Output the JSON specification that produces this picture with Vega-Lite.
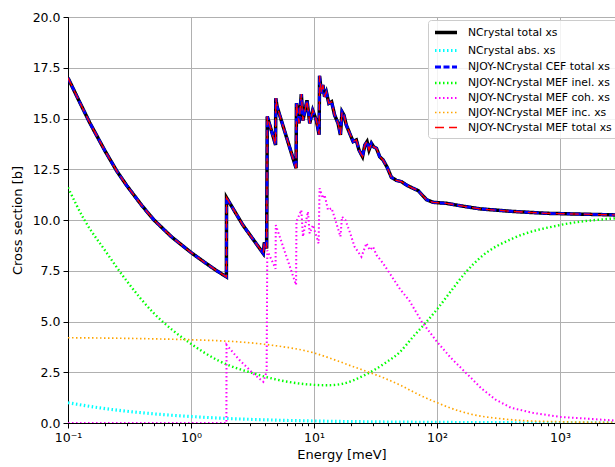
{
  "$schema": "https://vega.github.io/schema/vega-lite/v6.json",
  "width": 547,
  "height": 406,
  "autosize": {"type": "none"},
  "padding": {"left": 68, "top": 17, "right": 0, "bottom": 44},
  "config": {
    "font": "DejaVu Sans",
    "view": {"stroke": "black", "strokeWidth": 1},
    "axis": {
      "labelFont": "DejaVu Sans", "titleFont": "DejaVu Sans",
      "labelColor": "black", "titleColor": "black",
      "labelFontSize": 12.5, "titleFontSize": 13, "titleFontWeight": "normal",
      "domainColor": "black", "tickColor": "black",
      "gridColor": "#b0b0b0", "gridWidth": 1,
      "labelFlush": false, "labelOverlap": false, "labelBound": false
    }
  },
  "data": {"values": [
    {"s":"tot","E":0.1,"v":17.0},{"s":"tot","E":0.12,"v":16.0},{"s":"tot","E":0.15,"v":14.8},{"s":"tot","E":0.2,"v":13.4},{"s":"tot","E":0.25,"v":12.4},{"s":"tot","E":0.3,"v":11.7},{"s":"tot","E":0.4,"v":10.7},{"s":"tot","E":0.5,"v":10.0},{"s":"tot","E":0.7,"v":9.15},{"s":"tot","E":1.0,"v":8.4},{"s":"tot","E":1.3,"v":7.9},{"s":"tot","E":1.6,"v":7.52},{"s":"tot","E":1.94,"v":7.2},{"s":"tot","E":1.945,"v":11.1},{"s":"tot","E":2.64,"v":9.75},{"s":"tot","E":3.87,"v":8.35},{"s":"tot","E":3.95,"v":8.9},{"s":"tot","E":4.12,"v":8.6},{"s":"tot","E":4.17,"v":15.1},{"s":"tot","E":4.87,"v":13.7},{"s":"tot","E":4.89,"v":16.0},{"s":"tot","E":5.0,"v":15.6},{"s":"tot","E":7.15,"v":12.55},{"s":"tot","E":7.2,"v":15.75},{"s":"tot","E":7.55,"v":14.76},{"s":"tot","E":7.89,"v":16.2},{"s":"tot","E":8.13,"v":14.9},{"s":"tot","E":8.77,"v":15.9},{"s":"tot","E":9.23,"v":14.76},{"s":"tot","E":9.76,"v":15.4},{"s":"tot","E":10.46,"v":14.9},{"s":"tot","E":11.0,"v":14.2},{"s":"tot","E":11.1,"v":17.1},{"s":"tot","E":11.5,"v":16.24},{"s":"tot","E":11.8,"v":16.65},{"s":"tot","E":12.2,"v":16.07},{"s":"tot","E":12.6,"v":16.3},{"s":"tot","E":13.2,"v":15.75},{"s":"tot","E":13.9,"v":15.83},{"s":"tot","E":14.7,"v":15.17},{"s":"tot","E":15.7,"v":14.76},{"s":"tot","E":16.4,"v":14.19},{"s":"tot","E":16.9,"v":15.33},{"s":"tot","E":17.5,"v":15.17},{"s":"tot","E":18.3,"v":14.68},{"s":"tot","E":19.5,"v":14.27},{"s":"tot","E":20.8,"v":13.86},{"s":"tot","E":22.1,"v":13.94},{"s":"tot","E":23.2,"v":13.45},{"s":"tot","E":24.8,"v":13.12},{"s":"tot","E":25.9,"v":13.69},{"s":"tot","E":27.0,"v":13.86},{"s":"tot","E":28.0,"v":13.45},{"s":"tot","E":29.3,"v":13.78},{"s":"tot","E":30.6,"v":13.6},{"s":"tot","E":32.2,"v":13.53},{"s":"tot","E":34.2,"v":13.12},{"s":"tot","E":36.4,"v":12.96},{"s":"tot","E":39.3,"v":12.6},{"s":"tot","E":42.6,"v":12.1},{"s":"tot","E":46.8,"v":11.95},{"s":"tot","E":51.4,"v":11.89},{"s":"tot","E":56.5,"v":11.72},{"s":"tot","E":63.9,"v":11.56},{"s":"tot","E":70.2,"v":11.45},{"s":"tot","E":82.2,"v":11.0},{"s":"tot","E":93.0,"v":10.87},{"s":"tot","E":119.5,"v":10.82},{"s":"tot","E":163,"v":10.68},{"s":"tot","E":223,"v":10.55},{"s":"tot","E":416,"v":10.42},{"s":"tot","E":778,"v":10.33},{"s":"tot","E":1452,"v":10.29},{"s":"tot","E":2800,"v":10.25},

    {"s":"cef","E":0.1,"v":17.0},{"s":"cef","E":0.12,"v":16.0},{"s":"cef","E":0.15,"v":14.8},{"s":"cef","E":0.2,"v":13.4},{"s":"cef","E":0.25,"v":12.4},{"s":"cef","E":0.3,"v":11.7},{"s":"cef","E":0.4,"v":10.7},{"s":"cef","E":0.5,"v":10.0},{"s":"cef","E":0.7,"v":9.15},{"s":"cef","E":1.0,"v":8.4},{"s":"cef","E":1.3,"v":7.9},{"s":"cef","E":1.6,"v":7.52},{"s":"cef","E":1.94,"v":7.2},{"s":"cef","E":1.945,"v":11.1},{"s":"cef","E":2.64,"v":9.75},{"s":"cef","E":3.87,"v":8.35},{"s":"cef","E":3.95,"v":8.9},{"s":"cef","E":4.12,"v":8.6},{"s":"cef","E":4.17,"v":15.1},{"s":"cef","E":4.87,"v":13.7},{"s":"cef","E":4.89,"v":16.0},{"s":"cef","E":5.0,"v":15.6},{"s":"cef","E":7.15,"v":12.55},{"s":"cef","E":7.2,"v":15.75},{"s":"cef","E":7.55,"v":14.76},{"s":"cef","E":7.89,"v":16.2},{"s":"cef","E":8.13,"v":14.9},{"s":"cef","E":8.77,"v":15.9},{"s":"cef","E":9.23,"v":14.76},{"s":"cef","E":9.76,"v":15.4},{"s":"cef","E":10.46,"v":14.9},{"s":"cef","E":11.0,"v":14.2},{"s":"cef","E":11.1,"v":17.1},{"s":"cef","E":11.5,"v":16.24},{"s":"cef","E":11.8,"v":16.65},{"s":"cef","E":12.2,"v":16.07},{"s":"cef","E":12.6,"v":16.3},{"s":"cef","E":13.2,"v":15.75},{"s":"cef","E":13.9,"v":15.83},{"s":"cef","E":14.7,"v":15.17},{"s":"cef","E":15.7,"v":14.76},{"s":"cef","E":16.4,"v":14.19},{"s":"cef","E":16.9,"v":15.33},{"s":"cef","E":17.5,"v":15.17},{"s":"cef","E":18.3,"v":14.68},{"s":"cef","E":19.5,"v":14.27},{"s":"cef","E":20.8,"v":13.86},{"s":"cef","E":22.1,"v":13.94},{"s":"cef","E":23.2,"v":13.45},{"s":"cef","E":24.8,"v":13.12},{"s":"cef","E":25.9,"v":13.69},{"s":"cef","E":27.0,"v":13.86},{"s":"cef","E":28.0,"v":13.45},{"s":"cef","E":29.3,"v":13.78},{"s":"cef","E":30.6,"v":13.6},{"s":"cef","E":32.2,"v":13.53},{"s":"cef","E":34.2,"v":13.12},{"s":"cef","E":36.4,"v":12.96},{"s":"cef","E":39.3,"v":12.6},{"s":"cef","E":42.6,"v":12.1},{"s":"cef","E":46.8,"v":11.95},{"s":"cef","E":51.4,"v":11.89},{"s":"cef","E":56.5,"v":11.72},{"s":"cef","E":63.9,"v":11.56},{"s":"cef","E":70.2,"v":11.45},{"s":"cef","E":82.2,"v":11.0},{"s":"cef","E":93.0,"v":10.87},{"s":"cef","E":119.5,"v":10.82},{"s":"cef","E":163,"v":10.68},{"s":"cef","E":223,"v":10.55},{"s":"cef","E":416,"v":10.42},{"s":"cef","E":778,"v":10.33},{"s":"cef","E":1452,"v":10.29},{"s":"cef","E":2800,"v":10.25},

    {"s":"mef","E":0.1,"v":17.0},{"s":"mef","E":0.12,"v":16.0},{"s":"mef","E":0.15,"v":14.8},{"s":"mef","E":0.2,"v":13.4},{"s":"mef","E":0.25,"v":12.4},{"s":"mef","E":0.3,"v":11.7},{"s":"mef","E":0.4,"v":10.7},{"s":"mef","E":0.5,"v":10.0},{"s":"mef","E":0.7,"v":9.15},{"s":"mef","E":1.0,"v":8.4},{"s":"mef","E":1.3,"v":7.9},{"s":"mef","E":1.6,"v":7.52},{"s":"mef","E":1.94,"v":7.2},{"s":"mef","E":1.945,"v":11.1},{"s":"mef","E":2.64,"v":9.75},{"s":"mef","E":3.87,"v":8.35},{"s":"mef","E":3.95,"v":8.9},{"s":"mef","E":4.12,"v":8.6},{"s":"mef","E":4.17,"v":15.1},{"s":"mef","E":4.87,"v":13.7},{"s":"mef","E":4.89,"v":16.0},{"s":"mef","E":5.0,"v":15.6},{"s":"mef","E":7.15,"v":12.55},{"s":"mef","E":7.2,"v":15.75},{"s":"mef","E":7.55,"v":14.76},{"s":"mef","E":7.89,"v":16.2},{"s":"mef","E":8.13,"v":14.9},{"s":"mef","E":8.77,"v":15.9},{"s":"mef","E":9.23,"v":14.76},{"s":"mef","E":9.76,"v":15.4},{"s":"mef","E":10.46,"v":14.9},{"s":"mef","E":11.0,"v":14.2},{"s":"mef","E":11.1,"v":17.1},{"s":"mef","E":11.5,"v":16.24},{"s":"mef","E":11.8,"v":16.65},{"s":"mef","E":12.2,"v":16.07},{"s":"mef","E":12.6,"v":16.3},{"s":"mef","E":13.2,"v":15.75},{"s":"mef","E":13.9,"v":15.83},{"s":"mef","E":14.7,"v":15.17},{"s":"mef","E":15.7,"v":14.76},{"s":"mef","E":16.4,"v":14.19},{"s":"mef","E":16.9,"v":15.33},{"s":"mef","E":17.5,"v":15.17},{"s":"mef","E":18.3,"v":14.68},{"s":"mef","E":19.5,"v":14.27},{"s":"mef","E":20.8,"v":13.86},{"s":"mef","E":22.1,"v":13.94},{"s":"mef","E":23.2,"v":13.45},{"s":"mef","E":24.8,"v":13.12},{"s":"mef","E":25.9,"v":13.69},{"s":"mef","E":27.0,"v":13.86},{"s":"mef","E":28.0,"v":13.45},{"s":"mef","E":29.3,"v":13.78},{"s":"mef","E":30.6,"v":13.6},{"s":"mef","E":32.2,"v":13.53},{"s":"mef","E":34.2,"v":13.12},{"s":"mef","E":36.4,"v":12.96},{"s":"mef","E":39.3,"v":12.6},{"s":"mef","E":42.6,"v":12.1},{"s":"mef","E":46.8,"v":11.95},{"s":"mef","E":51.4,"v":11.89},{"s":"mef","E":56.5,"v":11.72},{"s":"mef","E":63.9,"v":11.56},{"s":"mef","E":70.2,"v":11.45},{"s":"mef","E":82.2,"v":11.0},{"s":"mef","E":93.0,"v":10.87},{"s":"mef","E":119.5,"v":10.82},{"s":"mef","E":163,"v":10.68},{"s":"mef","E":223,"v":10.55},{"s":"mef","E":416,"v":10.42},{"s":"mef","E":778,"v":10.33},{"s":"mef","E":1452,"v":10.29},{"s":"mef","E":2800,"v":10.25},

    {"s":"abs","E":0.1,"v":1.0},{"s":"abs","E":0.15,"v":0.82},{"s":"abs","E":0.2,"v":0.71},{"s":"abs","E":0.3,"v":0.58},{"s":"abs","E":0.5,"v":0.45},{"s":"abs","E":0.7,"v":0.38},{"s":"abs","E":1,"v":0.32},{"s":"abs","E":2,"v":0.22},{"s":"abs","E":3,"v":0.18},{"s":"abs","E":5,"v":0.14},{"s":"abs","E":10,"v":0.1},{"s":"abs","E":20,"v":0.071},{"s":"abs","E":50,"v":0.045},{"s":"abs","E":100,"v":0.032},{"s":"abs","E":300,"v":0.018},{"s":"abs","E":1000,"v":0.01},{"s":"abs","E":2800,"v":0.006},

    {"s":"inel","E":0.1,"v":11.6},{"s":"inel","E":0.136,"v":10.0},{"s":"inel","E":0.2,"v":8.5},{"s":"inel","E":0.3,"v":7.0},{"s":"inel","E":0.5,"v":5.4},{"s":"inel","E":0.7,"v":4.6},{"s":"inel","E":1.0,"v":3.9},{"s":"inel","E":1.7,"v":3.05},{"s":"inel","E":3.2,"v":2.45},{"s":"inel","E":6.1,"v":2.03},{"s":"inel","E":10,"v":1.88},{"s":"inel","E":13,"v":1.86},{"s":"inel","E":17,"v":1.93},{"s":"inel","E":25.8,"v":2.36},{"s":"inel","E":37.6,"v":2.94},{"s":"inel","E":50,"v":3.5},{"s":"inel","E":65,"v":4.3},{"s":"inel","E":80,"v":4.9},{"s":"inel","E":100,"v":5.6},{"s":"inel","E":130,"v":6.5},{"s":"inel","E":170,"v":7.4},{"s":"inel","E":230,"v":8.2},{"s":"inel","E":416,"v":9.1},{"s":"inel","E":1000,"v":9.75},{"s":"inel","E":2800,"v":10.08},

    {"s":"coh","E":0.1,"v":0},{"s":"coh","E":1.94,"v":0},{"s":"coh","E":1.945,"v":3.85},{"s":"coh","E":2.48,"v":3.1},{"s":"coh","E":3.19,"v":2.45},{"s":"coh","E":3.87,"v":2.03},{"s":"coh","E":4.12,"v":2.53},{"s":"coh","E":4.17,"v":8.5},{"s":"coh","E":4.87,"v":7.6},{"s":"coh","E":4.89,"v":9.75},{"s":"coh","E":7.15,"v":6.8},{"s":"coh","E":7.2,"v":9.92},{"s":"coh","E":7.89,"v":10.49},{"s":"coh","E":8.13,"v":9.18},{"s":"coh","E":8.93,"v":10.41},{"s":"coh","E":9.22,"v":9.34},{"s":"coh","E":9.81,"v":9.75},{"s":"coh","E":10.9,"v":8.85},{"s":"coh","E":11.1,"v":11.56},{"s":"coh","E":11.8,"v":11.07},{"s":"coh","E":12.2,"v":11.23},{"s":"coh","E":13.0,"v":10.49},{"s":"coh","E":13.9,"v":10.58},{"s":"coh","E":15.2,"v":9.84},{"s":"coh","E":16.4,"v":9.18},{"s":"coh","E":16.9,"v":10.16},{"s":"coh","E":18.0,"v":10.0},{"s":"coh","E":19.5,"v":9.42},{"s":"coh","E":21.4,"v":8.68},{"s":"coh","E":24.3,"v":8.19},{"s":"coh","E":26.7,"v":8.85},{"s":"coh","E":28.4,"v":8.52},{"s":"coh","E":30.2,"v":8.68},{"s":"coh","E":32.2,"v":8.28},{"s":"coh","E":36.4,"v":7.87},{"s":"coh","E":42,"v":7.3},{"s":"coh","E":50,"v":6.6},{"s":"coh","E":60,"v":6.0},{"s":"coh","E":75,"v":5.0},{"s":"coh","E":100,"v":4.0},{"s":"coh","E":130,"v":3.2},{"s":"coh","E":170,"v":2.5},{"s":"coh","E":230,"v":1.7},{"s":"coh","E":300,"v":1.15},{"s":"coh","E":400,"v":0.75},{"s":"coh","E":600,"v":0.5},{"s":"coh","E":1000,"v":0.3},{"s":"coh","E":2800,"v":0.12},

    {"s":"inc","E":0.1,"v":4.2},{"s":"inc","E":0.3,"v":4.17},{"s":"inc","E":1,"v":4.1},{"s":"inc","E":1.71,"v":4.05},{"s":"inc","E":3.3,"v":3.93},{"s":"inc","E":4.3,"v":3.85},{"s":"inc","E":10,"v":3.45},{"s":"inc","E":15.7,"v":3.05},{"s":"inc","E":21.4,"v":2.75},{"s":"inc","E":28,"v":2.5},{"s":"inc","E":37.6,"v":2.2},{"s":"inc","E":50,"v":1.87},{"s":"inc","E":72,"v":1.38},{"s":"inc","E":100,"v":1.0},{"s":"inc","E":150,"v":0.6},{"s":"inc","E":200,"v":0.4},{"s":"inc","E":300,"v":0.24},{"s":"inc","E":500,"v":0.12},{"s":"inc","E":1000,"v":0.06},{"s":"inc","E":2800,"v":0.03}
  ]},
  "encoding": {
    "x": {
      "field": "E", "type": "quantitative",
      "scale": {"type": "log", "domain": [0.1, 2800], "nice": false},
      "axis": {
        "title": "Energy [meV]",
        "titlePadding": 5,
        "values": [0.1,0.2,0.3,0.4,0.5,0.6,0.7,0.8,0.9,1,2,3,4,5,6,7,8,9,10,20,30,40,50,60,70,80,90,100,200,300,400,500,600,700,800,900,1000,2000],
        "labelExpr": "datum.value==0.1?'10⁻¹':datum.value==1?'10⁰':datum.value==10?'10¹':datum.value==100?'10²':datum.value==1000?'10³':''",
        "labelPadding": 3,
        "grid": true,
        "gridOpacity": {"condition": {"test": "indexof([0.1,1,10,100,1000], datum.value) >= 0", "value": 1}, "value": 0},
        "tickSize": {"condition": {"test": "indexof([0.1,1,10,100,1000], datum.value) >= 0", "value": 5}, "value": 2.7}
      }
    },
    "y": {
      "field": "v", "type": "quantitative",
      "scale": {"domain": [0, 20], "nice": false},
      "axis": {
        "title": "Cross section [b]",
        "values": [0,2.5,5,7.5,10,12.5,15,17.5,20],
        "format": ".1f",
        "grid": true,
        "tickSize": 5,
        "labelPadding": 3,
        "titlePadding": 8
      }
    },
    "color": {
      "field": "s", "type": "nominal",
      "scale": {
        "domain": ["tot","abs","cef","inel","coh","inc","mef"],
        "range": ["#000000","#00ffff","#0000ff","#00ff00","#ff00ff","#ffa500","#ff0000"]
      },
      "legend": {
        "title": null,
        "orient": "none",
        "legendX": 360,
        "legendY": 3,
        "symbolType": "M-1,0H3",
        "symbolSize": 121,
        "labelFont": "DejaVu Sans",
        "labelFontSize": 10.8,
        "labelColor": "black",
        "labelOffset": 20,
        "labelLimit": 300,
        "rowPadding": 3,
        "padding": 5,
        "fillColor": "rgba(255,255,255,0.85)",
        "strokeColor": "#cccccc",
        "cornerRadius": 3,
        "labelExpr": "datum.label=='tot'?'NCrystal total xs':datum.label=='abs'?'NCrystal abs. xs':datum.label=='cef'?'NJOY-NCrystal CEF total xs':datum.label=='inel'?'NJOY-NCrystal MEF inel. xs':datum.label=='coh'?'NJOY-NCrystal MEF coh. xs':datum.label=='inc'?'NJOY-NCrystal MEF inc. xs':'NJOY-NCrystal  MEF total xs'"
      }
    },
    "strokeDash": {
      "field": "s", "type": "nominal",
      "scale": {
        "domain": ["tot","abs","cef","inel","coh","inc","mef"],
        "range": [[1,0],[1.5,2.5],[6,2.5],[1.5,2.5],[1.5,2.5],[1.5,2.5],[9,5]]
      },
      "legend": null
    },
    "strokeWidth": {
      "field": "s", "type": "nominal",
      "scale": {
        "domain": ["tot","abs","cef","inel","coh","inc","mef"],
        "range": [3.5,1.3,1.5,1.3,1.3,1.3,1.6]
      },
      "legend": null
    }
  },
  "layer": [
    {"transform": [{"filter": "datum.s=='tot'"}], "mark": {"type": "line", "clip": true}},
    {"transform": [{"filter": "datum.s=='abs'"}], "mark": {"type": "line", "clip": true, "interpolate": "monotone"}},
    {"transform": [{"filter": "datum.s=='cef'"}], "mark": {"type": "line", "clip": true}},
    {"transform": [{"filter": "datum.s=='inel'"}], "mark": {"type": "line", "clip": true, "interpolate": "monotone"}},
    {"transform": [{"filter": "datum.s=='coh'"}], "mark": {"type": "line", "clip": true}},
    {"transform": [{"filter": "datum.s=='inc'"}], "mark": {"type": "line", "clip": true, "interpolate": "monotone"}},
    {"transform": [{"filter": "datum.s=='mef'"}], "mark": {"type": "line", "clip": true}}
  ]
}
